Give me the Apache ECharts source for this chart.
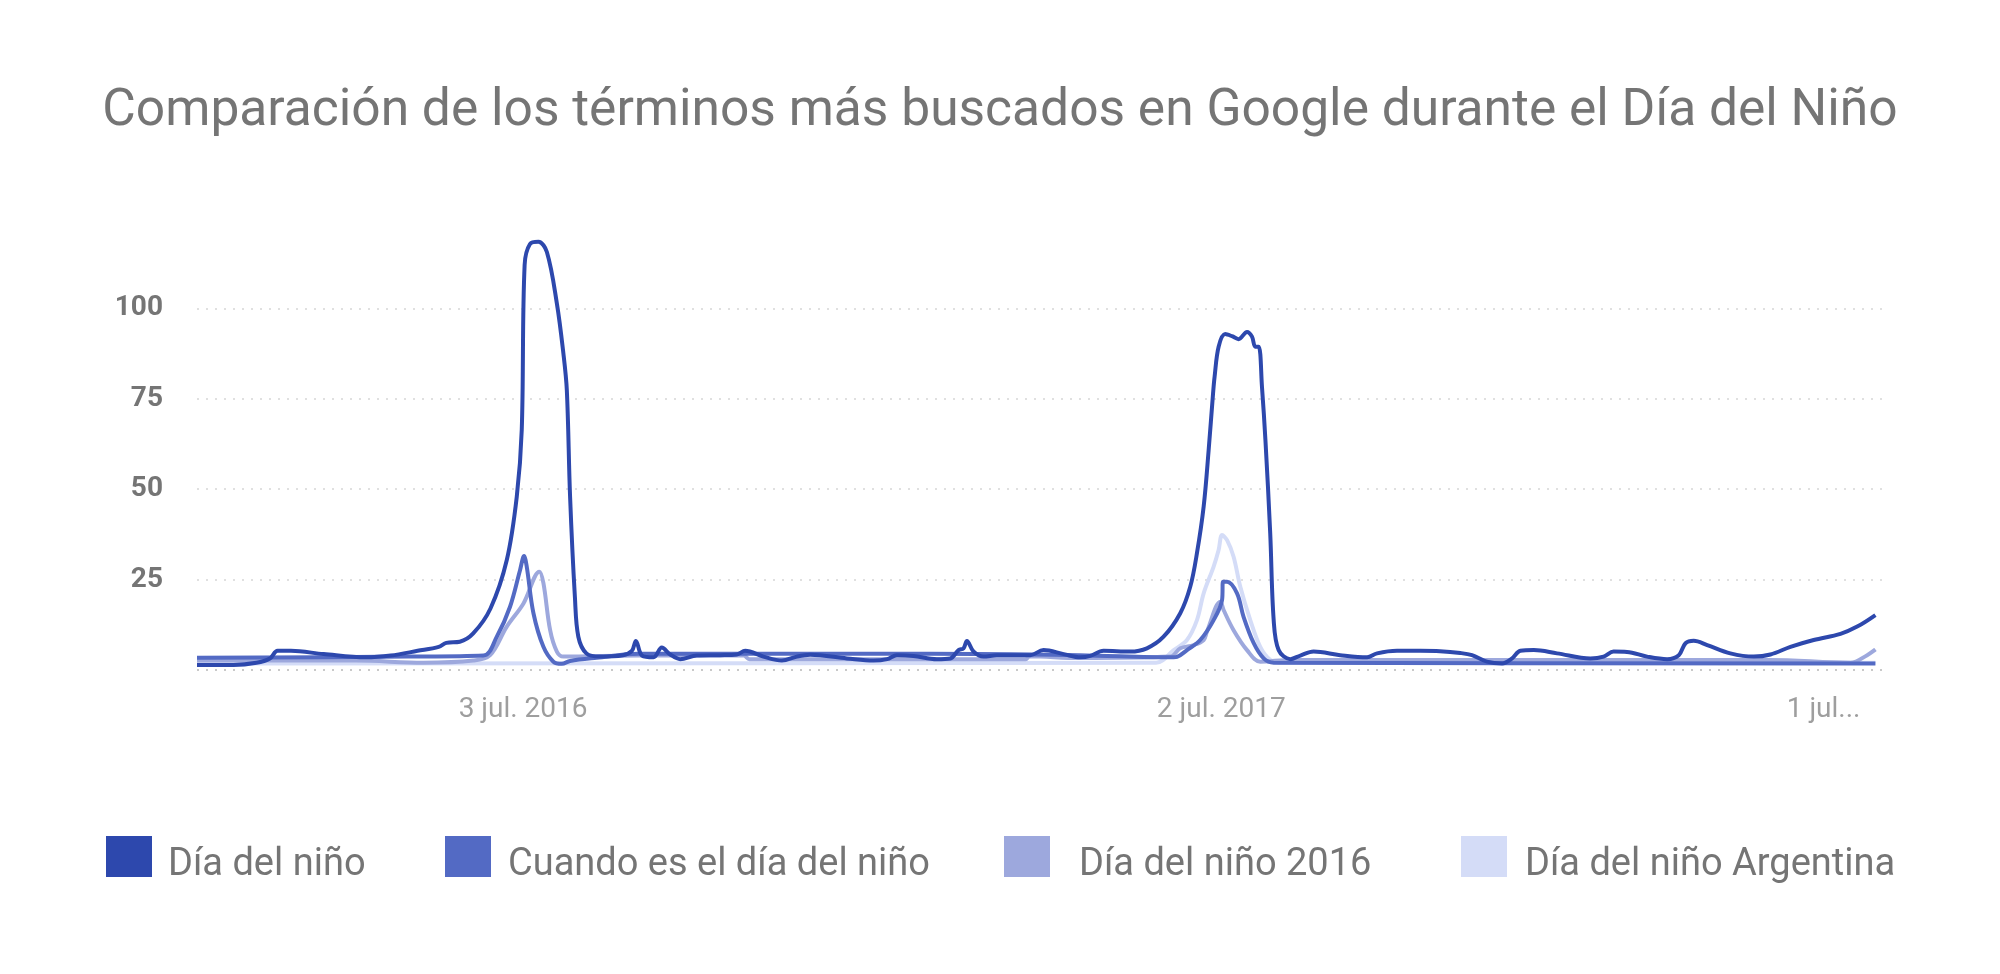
<!DOCTYPE html>
<html>
<head>
<meta charset="utf-8">
<title>Día del Niño</title>
<script src="https://cdn.jsdelivr.net/npm/echarts@6/dist/echarts.min.js"></script>
<style>
  html, body { margin: 0; padding: 0; background: #fff; }
  #chart { width: 2000px; height: 974px; }
</style>
</head>
<body>
<div id="chart"></div>
<script>
// eje x: días desde el 3 jul. 2016
var tickDays = [0, 364, 678]
var tickLabels = ['3 jul. 2016', '2 jul. 2017', '1 jul...']

var seriesNames = ['Día del niño', 'Cuando es el día del niño', 'Día del niño 2016', 'Día del niño Argentina']
var seriesColors = ['#2d48ad', '#536ac4', '#9da8dd', '#d4dcf7']

var ninoDays = [-170, -151, -139, -132, -128, -121, -104, -82, -69, -55, -44, -40, -33, -26, -17, -8.5, -3.3, -0.7, 0.8,
  3.6, 8, 12.4, 17.6, 21, 22.8, 24.5, 27, 28.8, 33, 40, 52, 56.7, 58.8, 62, 68, 72.3, 76.7, 81.9, 90.6, 102.7, 111.4,
  115.8, 125.3, 134.9, 142.7, 149.7, 168.8, 182.7, 189.7, 194.9, 203.5, 215.7, 222.7, 227, 229.6, 231.4, 234.8, 240,
  247, 264.4, 271.3, 281.8, 290.5, 295.7, 302.6, 316.5, 325.2, 333.9, 342.6, 347.8, 351.3, 354.8, 357.4, 359.7, 360.5,
  362.6, 366, 369.6, 373, 377.4, 380, 381.7, 383.5, 385.2, 387, 389.5, 391.3, 393.9, 400, 405.2, 412.1, 426, 440, 445.2,
  455.6, 467.8, 478, 488.6, 494.7, 502.5, 510.4, 515.6, 519.9, 526.9, 539, 556.4, 563.3, 568.5, 575.5, 586, 596.4,
  602.5, 606, 610.3, 617.3, 629.4, 641.6, 650.3, 660.7, 672.8, 686.8, 695.5, 705]
var ninoValues = [1.4, 1.4, 2.0, 3.2, 5.3, 5.3, 4.4, 3.5, 4.0, 5.3, 6.4, 7.5, 7.8, 10.1, 17.0, 30.4, 47.9, 66.4, 112,
  117.8, 118.4, 115.6, 101.4, 87.6, 77.4, 47.9, 20.3, 9.2, 4.6, 3.7, 4.1, 5.3, 8.0, 4.0, 3.5, 6.2, 4.3, 3.0, 4.0, 4.1, 4.3,
  5.3, 3.7, 2.6, 3.7, 4.2, 3.2, 2.6, 3.0, 4.1, 3.9, 3.0, 3.2, 5.5, 6.0, 8.0, 5.1, 3.7,
  4.1, 4.1, 5.5, 4.4, 3.5, 3.9, 5.3, 5.1, 6.0, 9.2, 15.7, 23, 32.3, 45.2, 60.8, 76.5, 81.1,
  89.4, 92.9, 92.3, 91.5, 93.5, 92.2, 89.4, 89.4, 78.3, 63.6, 37.8, 13.8, 5.5, 3.0, 4.0, 5.1, 4.1, 3.5, 4.6,
  5.3, 5.3, 5.2, 4.7, 4.1, 2.3, 1.8, 3.2, 5.3, 5.5, 4.6, 3.2, 3.7, 5.1, 5.0, 3.7, 3.0,
  4.1, 7.4, 8.1, 6.9, 4.6, 3.7, 4.3, 6.4, 8.3, 10.0, 12.0, 15.2]

var cuandoDays = [-170, -60, -20.7, -13.7, -6.8, -1.6, 0.5, 1.9, 5.4, 10.6, 15.8, 20.2, 24.5, 38.4, 60, 212, 290,
  339.2, 340.9, 346.1, 353, 360, 364.4, 364.9, 367, 372.2, 375.6, 380.9, 386.1, 391.3, 705]
var cuandoValues = [3.4, 3.7, 4.0, 9.2, 17.5, 27.6, 31.5, 28.6, 15.7, 6.4, 2.3, 1.7, 2.5, 3.4, 4.5, 4.5, 4.1,
  3.5, 3.6, 5.5, 8.3, 13.8, 19.4, 24.4, 24.4, 21.2, 14.7, 7.4, 3.2, 2.0, 1.8]

var nino2016Days = [-170, -87, -52, -26, -17.2, -8.5, 0.2, 8.5, 10.6, 14.1, 17.6, 21, 60, 115, 118, 262, 264, 290,
  337.4, 342.6, 349.6, 354.8, 356.5, 363.5, 365.2, 370.4, 377.4, 384.3, 400, 650, 692, 700.7, 705]
var nino2016Values = [2.6, 2.6, 2.0, 2.6, 4.1, 12, 18.4, 27.2, 24, 11, 5.1, 3.7, 4.0, 4.0, 3.0, 3.0, 3.8, 3.3,
  3.7, 6.0, 6.9, 8.3, 10.6, 18.9, 16.6, 11, 5.5, 2.3, 2.8, 2.8, 2.0, 4.1, 5.7]

var argentinaDays = [-170, 330, 339.2, 346.1, 351.3, 354.8, 360, 362.6, 364.4, 367, 370.4, 373.9, 379.1, 384.3,
  389.5, 395, 705]
var argentinaValues = [1.8, 2.0, 5.5, 8.3, 13.8, 21.2, 28.6, 33.2, 37.3, 35.9, 31.3, 23, 13.8, 6.4,
  2.8, 2.0, 2.0]

function pairs(days, values) {
  var out = []
  for (var i = 0; i < days.length; i++) {
    out.push([days[i], values[i]])
  }
  return out
}

var allData = [
  pairs(ninoDays, ninoValues),
  pairs(cuandoDays, cuandoValues),
  pairs(nino2016Days, nino2016Values),
  pairs(argentinaDays, argentinaValues)
]

var legendLeft = [106, 445, 1004, 1461]
var legendTextGap = [11, 12, 24, 13]
var legends = []
var series = []
for (var i = 0; i < seriesNames.length; i++) {
  legends.push({
    data: [seriesNames[i]],
    left: legendLeft[i],
    top: 836,
    padding: 0,
    icon: 'rect',
    itemWidth: 46,
    itemHeight: 41,
    selectedMode: false,
    formatter: '{t|{name}}',
    textStyle: {
      fontFamily: 'Roboto',
      fontSize: 38,
      color: '#757575',
      rich: {
        t: {
          fontFamily: 'Roboto',
          fontSize: 38,
          color: '#757575',
          padding: [18, 0, 0, legendTextGap[i]]
        }
      }
    }
  })
  series.push({
    name: seriesNames[i],
    type: 'line',
    data: allData[i],
    showSymbol: false,
    smooth: 0.35,
    z: 10 - i,
    color: seriesColors[i],
    lineStyle: { width: 4, color: seriesColors[i] }
  })
}

var chart = echarts.init(document.getElementById('chart'), null, { renderer: 'canvas' })

var option = {
  animation: false,
  backgroundColor: '#fff',
  textStyle: { fontFamily: 'Roboto' },
  title: {
    text: 'Comparación de los términos más buscados en Google durante el Día del Niño',
    left: 'center',
    top: 86,
    padding: 0,
    textStyle: {
      fontFamily: 'Roboto',
      fontSize: 51.5,
      fontWeight: 'normal',
      color: '#757575'
    }
  },
  legend: legends,
  grid: {
    left: 197,
    right: 115,
    top: 218,
    bottom: 304,
    containLabel: false
  },
  xAxis: {
    type: 'value',
    min: -170,
    max: 710,
    axisLine: { show: false },
    axisTick: { show: false },
    splitLine: { show: false },
    axisLabel: {
      customValues: tickDays,
      margin: 26,
      fontFamily: 'Roboto',
      fontSize: 28,
      color: '#9e9e9e',
      formatter: function (v) {
        var k = tickDays.indexOf(v)
        return k >= 0 ? tickLabels[k] : ''
      }
    }
  },
  yAxis: {
    type: 'value',
    min: 0,
    max: 125,
    interval: 25,
    axisLine: { show: false },
    axisTick: { show: false },
    splitLine: {
      show: true,
      lineStyle: {
        type: [2, 7],
        width: 1.5,
        color: ['#b8b8b8', '#d6d6d6', '#d6d6d6', '#d6d6d6', '#d6d6d6', 'rgba(0,0,0,0)']
      }
    },
    axisLabel: {
      margin: 34,
      fontFamily: 'Roboto',
      fontSize: 28,
      fontWeight: 'bold',
      color: '#757575',
      formatter: function (v) {
        return (v === 0 || v === 125) ? '' : String(v)
      }
    }
  },
  series: series
}

chart.setOption(option)
</script>
</body>
</html>
